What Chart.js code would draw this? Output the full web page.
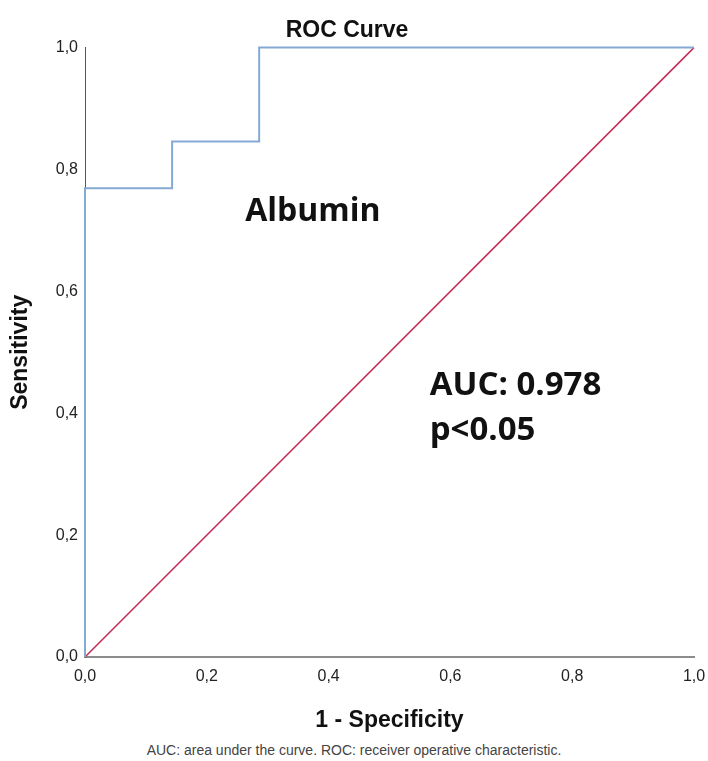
<!DOCTYPE html>
<html lang="en">
<head>
    <meta charset="UTF-8" />
    <title>ROC Curve</title>
    <script src="https://cdn.jsdelivr.net/npm/chart.js"></script>
    <style>
        body { margin: 0; background: #fff; }
        #wrap { width: 708px; }
        .caption {
            width: 708px;
            height: 26px;
            line-height: 30px;
            text-align: center;
            font-family: "Liberation Sans", Arial, sans-serif;
            font-size: 14px;
            color: #444;
        }
    </style>
</head>
<body>
<div id="wrap">
    <canvas id="rocChart" width="708" height="735"></canvas>
    <div class="caption">AUC: area under the curve. ROC: receiver operative characteristic.</div>
</div>

<script>
// ROC curve points (1 - specificity, sensitivity)
const fpr = [0, 0, 0.143, 0.143, 0.286, 0.286, 1];
const tpr = [0, 0.769, 0.769, 0.846, 0.846, 1, 1];

// reference (chance) line
const refX = [0, 1];
const refY = [0, 1];

const tickValues = [0, 0.2, 0.4, 0.6, 0.8, 1];

const toPoints = (xs, ys) => xs.map((x, i) => ({ x: x, y: ys[i] }));
const fmt = v => Number(v).toFixed(1).replace('.', ',');

// text labels inside the plot, positioned in data units
const textNotes = {
    id: 'textNotes',
    afterDatasetsDraw(chart) {
        const { ctx, scales } = chart;
        const notes = [
            { text: 'Albumin', x: 0.263, y: 0.716, size: 32 },
            { text: 'AUC: 0.978', x: 0.566, y: 0.4295, size: 33 },
            { text: 'p<0.05', x: 0.566, y: 0.3557, size: 33 }
        ];
        ctx.save();
        ctx.fillStyle = '#111';
        ctx.textAlign = 'left';
        ctx.textBaseline = 'alphabetic';
        notes.forEach(n => {
            ctx.font = 'bold ' + n.size + 'px "Open Sans", sans-serif';
            ctx.fillText(n.text, scales.x.getPixelForValue(n.x), scales.y.getPixelForValue(n.y));
        });
        ctx.restore();
    }
};

const ctx = document.getElementById('rocChart').getContext('2d');
const rocChart = new Chart(ctx, {
    type: 'scatter',
    data: {
        datasets: [
            {
                label: 'Albumin',
                data: toPoints(fpr, tpr),
                showLine: true,
                borderColor: '#84aad4',
                borderWidth: 2,
                pointRadius: 0,
                tension: 0,
                clip: 4
            },
            {
                label: 'Reference',
                data: toPoints(refX, refY),
                showLine: true,
                borderColor: '#c22a55',
                borderWidth: 1.5,
                pointRadius: 0,
                clip: 4
            }
        ]
    },
    options: {
        responsive: false,
        animation: false,
        devicePixelRatio: 1,
        layout: { padding: { left: 0, right: 14, top: 0, bottom: 1 } },
        plugins: {
            legend: { display: false },
            tooltip: { enabled: false },
            title: {
                display: true,
                text: 'ROC Curve',
                color: '#111',
                font: { family: '"Liberation Sans", Arial, sans-serif', size: 23, weight: 'bold' },
                padding: { top: 17, bottom: 3 }
            }
        },
        scales: {
            x: {
                type: 'linear',
                min: 0,
                max: 1,
                afterBuildTicks: axis => { axis.ticks = tickValues.map(v => ({ value: v })); },
                afterFit: axis => {
                    axis.height = 77;
                    axis.paddingLeft = 0;
                    axis.paddingRight = 0;
                },
                grid: { display: false, drawTicks: false },
                border: { display: true, color: '#8c8c8c', width: 2 },
                ticks: {
                    padding: 10,
                    color: '#222',
                    font: { family: '"Liberation Sans", Arial, sans-serif', size: 16 },
                    callback: v => fmt(v)
                },
                title: {
                    display: true,
                    text: '1 - Specificity',
                    color: '#111',
                    font: { family: '"Liberation Sans", Arial, sans-serif', size: 23, weight: 'bold' },
                    padding: 0
                }
            },
            y: {
                type: 'linear',
                min: 0,
                max: 1,
                afterBuildTicks: axis => { axis.ticks = tickValues.map(v => ({ value: v })); },
                afterFit: axis => { axis.width = 85; },
                grid: { display: false, drawTicks: false },
                border: { display: true, color: '#555', width: 1 },
                ticks: {
                    padding: 7,
                    color: '#222',
                    font: { family: '"Liberation Sans", Arial, sans-serif', size: 16 },
                    callback: v => fmt(v)
                },
                title: {
                    display: true,
                    text: 'Sensitivity',
                    color: '#111',
                    font: { family: '"Liberation Sans", Arial, sans-serif', size: 23, weight: 'bold' },
                    padding: { top: 7, bottom: 0 }
                }
            }
        }
    },
    plugins: [textNotes]
});
</script>
</body>
</html>
